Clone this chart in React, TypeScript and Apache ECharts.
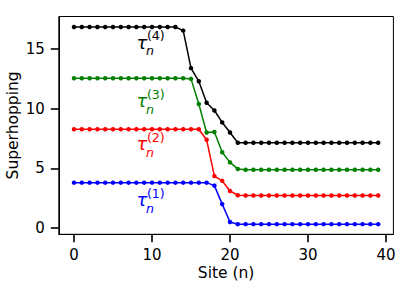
import React, { useEffect, useRef } from "react";
import * as echarts from "echarts";

const sites = [0, 1, 2, 3, 4, 5, 6, 7, 8, 9, 10, 11, 12, 13, 14, 15, 16, 17, 18, 19, 20, 21, 22, 23, 24, 25, 26, 27, 28, 29, 30, 31, 32, 33, 34, 35, 36, 37, 38, 39];

const tau1 = [3.8, 3.8, 3.8, 3.8, 3.8, 3.8, 3.8, 3.8, 3.8, 3.8, 3.8, 3.8, 3.8, 3.8, 3.8, 3.8, 3.8, 3.8, 3.55, 2.0, 0.5, 0.32, 0.32, 0.32, 0.32, 0.32, 0.32, 0.32, 0.32, 0.32, 0.32, 0.32, 0.32, 0.32, 0.32, 0.32, 0.32, 0.32, 0.32, 0.32];
const tau2 = [8.28, 8.28, 8.28, 8.28, 8.28, 8.28, 8.28, 8.28, 8.28, 8.28, 8.28, 8.28, 8.28, 8.28, 8.28, 8.28, 8.28, 7.4, 4.35, 3.95, 3.1, 2.75, 2.72, 2.72, 2.72, 2.72, 2.72, 2.72, 2.72, 2.72, 2.72, 2.72, 2.72, 2.72, 2.72, 2.72, 2.72, 2.72, 2.72, 2.72];
const tau3 = [12.55, 12.55, 12.55, 12.55, 12.55, 12.55, 12.55, 12.55, 12.55, 12.55, 12.55, 12.55, 12.55, 12.55, 12.55, 12.5, 10.4, 8.0, 8.05, 6.35, 5.5, 4.95, 4.88, 4.88, 4.88, 4.88, 4.88, 4.88, 4.88, 4.88, 4.88, 4.88, 4.88, 4.88, 4.88, 4.88, 4.88, 4.88, 4.88, 4.88];
const tau4 = [16.85, 16.85, 16.85, 16.85, 16.85, 16.85, 16.85, 16.85, 16.85, 16.85, 16.85, 16.85, 16.85, 16.85, 16.55, 13.4, 12.3, 10.5, 9.85, 8.85, 8.0, 7.15, 7.15, 7.15, 7.15, 7.15, 7.15, 7.15, 7.15, 7.15, 7.15, 7.15, 7.15, 7.15, 7.15, 7.15, 7.15, 7.15, 7.15, 7.15];

const seriesValues = [tau1, tau2, tau3, tau4];
const seriesNames = ["tau1", "tau2", "tau3", "tau4"];
const seriesColors = ["#0000ff", "#ff0000", "#008000", "#000000"];

const labelOrders = ["(1)", "(2)", "(3)", "(4)"];
const labelX = [8, 8, 8, 8];
const labelY = [1.87, 6.54, 10.17, 15.06];

const xTicks = [0, 10, 20, 30, 40];
const yTicks = [0, 5, 10, 15];

const FONT = "'DejaVu Sans', 'Noto Sans', sans-serif";

export default function App() {
  const ref = useRef<HTMLDivElement>(null);
  useEffect(() => {
    const chart = echarts.init(ref.current!, null, { renderer: "svg" });
    const axisCommon = {
      type: "value",
      nameMoveOverlap: false,
      axisLine: { show: true, onZero: false, lineStyle: { color: "#000", width: 1 } },
      axisTick: { show: true, inside: false, length: 8, lineStyle: { color: "#000", width: 1.6 } },
      splitLine: { show: false },
      nameTextStyle: { fontFamily: FONT, fontSize: 15.5, color: "#000" },
    };
    chart.setOption({
      animation: false,
      backgroundColor: "#fff",
      grid: {
        left: 58.8,
        right: 16.6,
        top: 16.5,
        bottom: 54.7,
        containLabel: false,
        outerBoundsMode: "none",
        show: true,
        borderColor: "#000",
        borderWidth: 1,
        backgroundColor: "transparent",
      },
      xAxis: {
        ...axisCommon,
        min: -1.95,
        max: 40.95,
        name: "Site (n)",
        nameLocation: "middle",
        nameGap: 31,
        axisTick: { ...axisCommon.axisTick, customValues: xTicks },
        axisLabel: { customValues: xTicks, fontFamily: FONT, fontSize: 15, color: "#000", margin: 13 },
      },
      yAxis: {
        ...axisCommon,
        min: -0.53,
        max: 17.73,
        name: "Superhopping",
        nameLocation: "middle",
        nameGap: 38,
        axisTick: { ...axisCommon.axisTick, customValues: yTicks },
        axisLabel: { customValues: yTicks, fontFamily: FONT, fontSize: 15, color: "#000", margin: 14 },
      },
      series: seriesValues.map((vals, i) => ({
        type: "line",
        name: seriesNames[i],
        data: sites.map((s, j) => [s, vals[j]]),
        symbol: "circle",
        symbolSize: 4.5,
        showSymbol: true,
        lineStyle: { color: seriesColors[i], width: 1.5 },
        itemStyle: { color: seriesColors[i] },
      })),
    });

    const graphics: any[] = [];
    labelOrders.forEach((ord, i) => {
      const p = chart.convertToPixel({ gridIndex: 0 }, [labelX[i], labelY[i]]) as number[];
      const bx = p[0];
      const by = p[1];
      const c = seriesColors[i];
      graphics.push({
        type: "text",
        x: bx,
        y: by - 0.346 * 18,
        style: { text: "τ", fill: c, fontFamily: FONT, fontSize: 18, fontStyle: "italic", align: "left", verticalAlign: "middle" },
      });
      graphics.push({
        type: "text",
        x: bx + 9.5,
        y: by + 6.7 - 0.346 * 12.6,
        style: { text: "n", fill: c, fontFamily: FONT, fontSize: 12.6, fontStyle: "italic", align: "left", verticalAlign: "middle" },
      });
      graphics.push({
        type: "text",
        x: bx + 10.5,
        y: by - 8.3 - 0.346 * 12.6,
        style: { text: ord, fill: c, fontFamily: FONT, fontSize: 12.6, align: "left", verticalAlign: "middle" },
      });
    });
    chart.setOption({ graphic: graphics });
    return () => chart.dispose();
  }, []);
  return <div ref={ref} style={{ position: "fixed", left: 0, top: 0, width: 410, height: 289 }} />;
}
